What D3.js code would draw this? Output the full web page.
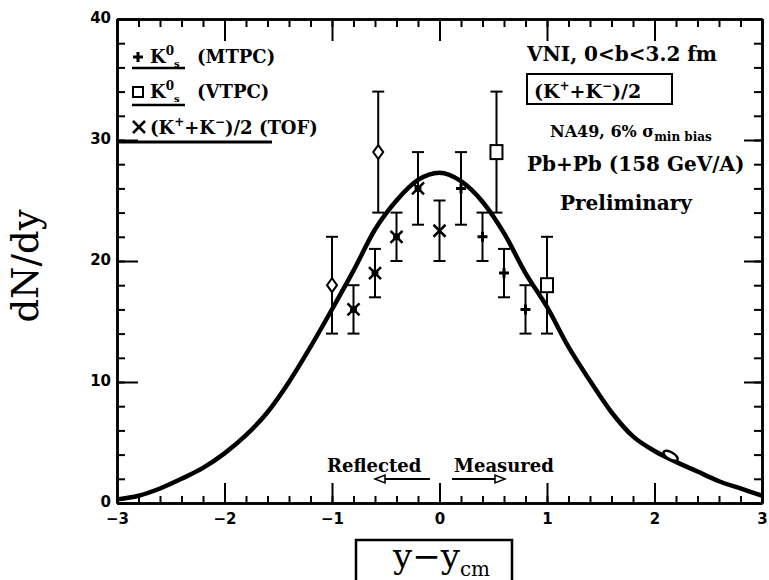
<!DOCTYPE html>
<html><head><meta charset="utf-8">
<script src="https://cdn.jsdelivr.net/npm/d3@7"></script>
<style>
body{margin:0;background:#fff;}
svg{display:block;}
</style></head>
<body>
<svg id="c" width="769" height="580"></svg>
<script>
// ---- data ----
const curveX = [-3.0,-2.8,-2.6,-2.4,-2.2,-2.0,-1.8,-1.6,-1.4,-1.2,-1.0,-0.8,-0.6,-0.4,-0.2,0.0,0.2,0.4,0.6,0.8,1.0,1.2,1.4,1.6,1.8,2.0,2.2,2.4,2.6,2.8,3.0];
const curveY = [0.3,0.6,1.2,2.0,2.9,4.1,5.6,7.5,10.0,12.9,16.0,19.2,22.6,25.0,26.7,27.3,26.6,24.9,22.3,19.0,16.2,12.9,10.1,7.5,5.5,4.3,3.4,2.6,1.8,1.2,0.6];

const mtpcX = [0.2,0.4,0.6,0.8];
const mtpcY = [26,22,19,16];
const mtpcErr = [3,2,2,2];

const vtpcX = [0.53,1.0];
const vtpcY = [29,18];
const vtpcErr = [5,4];

const tofX = [0];
const tofY = [22.5];
const tofErr = [2.5];

const reflMtpcX = [-0.2,-0.4,-0.6,-0.8];
const reflMtpcY = [26,22,19,16];
const reflMtpcErr = [3,2,2,2];

const reflVtpcX = [-0.57,-1.0];
const reflVtpcY = [29,18];
const reflVtpcErr = [5,4];

const extraX = [2.15];
const extraY = [3.9];

const xMajor = [-3,-2,-1,0,1,2,3];
const yMajor = [0,10,20,30,40];

// ---- scales ----
const svg = d3.select("#c");
const x = d3.scaleLinear().domain([-3,3]).range([117,762]);
const y = d3.scaleLinear().domain([0,40]).range([503,19]);
const xMinor = d3.range(-3,3.001,0.2).map(v=>+v.toFixed(1));
const yMinor = d3.range(0,40.001,2);

const tickFont = "DejaVu Sans";
function styleAxis(g){
  g.selectAll("path.domain").attr("stroke","#000").attr("stroke-width",2.5);
  g.selectAll(".tick line").attr("stroke","#000").attr("stroke-width",2);
  g.selectAll(".tick text").attr("font-family",tickFont).attr("font-weight","bold").attr("font-size",15).attr("fill","#000");
}
// bottom
svg.append("g").attr("transform",`translate(0,${y(0)})`)
  .call(d3.axisBottom(x).tickValues(xMinor).tickSize(-7).tickSizeOuter(0).tickFormat("")).call(styleAxis);
svg.append("g").attr("transform",`translate(0,${y(0)})`)
  .call(d3.axisBottom(x).tickValues(xMajor).tickSize(-20).tickSizeOuter(0).tickPadding(10).tickFormat(d3.format("d"))).call(styleAxis);
// top
svg.append("g").attr("transform",`translate(0,${y(40)})`)
  .call(d3.axisTop(x).tickValues(xMinor).tickSize(-8).tickSizeOuter(0).tickFormat("")).call(styleAxis);
svg.append("g").attr("transform",`translate(0,${y(40)})`)
  .call(d3.axisTop(x).tickValues(xMajor).tickSize(-22).tickSizeOuter(0).tickFormat("")).call(styleAxis);
// left
svg.append("g").attr("transform",`translate(${x(-3)},0)`)
  .call(d3.axisLeft(y).tickValues(yMinor).tickSize(-8).tickSizeOuter(0).tickFormat("")).call(styleAxis);
const yl = svg.append("g").attr("transform",`translate(${x(-3)},0)`)
  .call(d3.axisLeft(y).tickValues(yMajor).tickSize(-21).tickSizeOuter(0).tickPadding(6).tickFormat(d3.format("d"))).call(styleAxis);
yl.selectAll(".tick text").attr("dy","0.2em");
// right
svg.append("g").attr("transform",`translate(${x(3)},0)`)
  .call(d3.axisRight(y).tickValues(yMinor).tickSize(-8).tickSizeOuter(0).tickFormat("")).call(styleAxis);
svg.append("g").attr("transform",`translate(${x(3)},0)`)
  .call(d3.axisRight(y).tickValues(yMajor).tickSize(-18).tickSizeOuter(0).tickFormat("")).call(styleAxis);

// ---- curve ----
const line = d3.line().x(d=>x(d[0])).y(d=>y(d[1])).curve(d3.curveMonotoneX);
svg.append("path").datum(curveX.map((v,i)=>[v,curveY[i]]))
  .attr("d",line).attr("fill","none").attr("stroke","#000").attr("stroke-width",4.5).attr("stroke-linejoin","round");

// ---- error bars ----
function errBars(xs,ys,es){
  const g = svg.append("g").attr("stroke","#000").attr("stroke-width",2);
  xs.forEach((xv,i)=>{
    const cx=x(xv), y1=y(ys[i]-es[i]), y2=y(ys[i]+es[i]);
    g.append("line").attr("x1",cx).attr("x2",cx).attr("y1",y1).attr("y2",y2);
    g.append("line").attr("x1",cx-6).attr("x2",cx+6).attr("y1",y1).attr("y2",y1);
    g.append("line").attr("x1",cx-6).attr("x2",cx+6).attr("y1",y2).attr("y2",y2);
  });
}
errBars(mtpcX,mtpcY,mtpcErr);
errBars(vtpcX,vtpcY,vtpcErr);
errBars(tofX,tofY,tofErr);
errBars(reflMtpcX,reflMtpcY,reflMtpcErr);
errBars(reflVtpcX,reflVtpcY,reflVtpcErr);

// ---- markers ----
function plusM(g,cx,cy,s){
  g.append("path").attr("d",`M${cx-s},${cy}H${cx+s}M${cx},${cy-s}V${cy+s}`).attr("stroke","#000").attr("stroke-width",3).attr("fill","none");
}
function crossM(g,cx,cy,s,dot){
  g.append("path").attr("d",`M${cx-s},${cy-s}L${cx+s},${cy+s}M${cx-s},${cy+s}L${cx+s},${cy-s}`).attr("stroke","#000").attr("stroke-width",2.5).attr("fill","none");
  if(dot) g.append("circle").attr("cx",cx).attr("cy",cy).attr("r",3.5).attr("fill","#000");
}
function diamondM(g,cx,cy,w,h){
  g.append("path").attr("d",`M${cx},${cy-h}L${cx+w},${cy}L${cx},${cy+h}L${cx-w},${cy}Z`).attr("stroke","#000").attr("stroke-width",2).attr("fill","#fff");
}
function squareM(g,cx,cy,w,h){
  g.append("rect").attr("x",cx-w).attr("y",cy-h).attr("width",2*w).attr("height",2*h).attr("stroke","#000").attr("stroke-width",2).attr("fill","#fff");
}
const mg = svg.append("g");
mtpcX.forEach((v,i)=>plusM(mg,x(v),y(mtpcY[i]),5));
vtpcX.forEach((v,i)=>squareM(mg,x(v),y(vtpcY[i]),6,7));
tofX.forEach((v,i)=>crossM(mg,x(v),y(tofY[i]),6,false));
reflMtpcX.forEach((v,i)=>crossM(mg,x(v),y(reflMtpcY[i]),6,true));
reflVtpcX.forEach((v,i)=>diamondM(mg,x(v),y(reflVtpcY[i]),5,7));
extraX.forEach((v,i)=>{
  mg.append("ellipse").attr("cx",x(v)).attr("cy",y(extraY[i])).attr("rx",8).attr("ry",3.5)
    .attr("transform",`rotate(30,${x(v)},${y(extraY[i])})`).attr("fill","#fff").attr("stroke","#000").attr("stroke-width",2.5);
});

// ---- legend (top-left) ----
const serif = "DejaVu Serif";
const lg = svg.append("g").attr("font-family",serif).attr("font-weight","bold").attr("fill","#000");
plusM(lg,138,57,5);
let t = lg.append("text").attr("x",150).attr("y",63).attr("font-size",18);
t.append("tspan").text("K");
t.append("tspan").attr("dy",-8).attr("font-size",12).text("0");
t.append("tspan").attr("dy",12).attr("font-size",10).text("s");
t.append("tspan").attr("dy",-4).attr("x",197).text("(MTPC)");
lg.append("line").attr("x1",132).attr("x2",185).attr("y1",68).attr("y2",68).attr("stroke","#000").attr("stroke-width",2.5);

squareM(lg,138,92,5,5);
t = lg.append("text").attr("x",150).attr("y",98).attr("font-size",18);
t.append("tspan").text("K");
t.append("tspan").attr("dy",-8).attr("font-size",12).text("0");
t.append("tspan").attr("dy",12).attr("font-size",10).text("s");
t.append("tspan").attr("dy",-4).attr("x",197).text("(VTPC)");
lg.append("line").attr("x1",132).attr("x2",185).attr("y1",105).attr("y2",105).attr("stroke","#000").attr("stroke-width",2.5);

crossM(lg,139,127,6,false);
t = lg.append("text").attr("x",150).attr("y",134).attr("font-size",18);
t.append("tspan").text("(K");
t.append("tspan").attr("dy",-8).attr("font-size",12).text("+");
t.append("tspan").attr("dy",8).text("+K");
t.append("tspan").attr("dy",-8).attr("font-size",12).text("−");
t.append("tspan").attr("dy",8).text(")/2 (TOF)");
lg.append("line").attr("x1",118).attr("x2",272).attr("y1",142).attr("y2",142).attr("stroke","#000").attr("stroke-width",3);

// ---- right-hand annotations ----
const rg = svg.append("g").attr("font-family",serif).attr("font-weight","bold").attr("fill","#000");
rg.append("text").attr("x",527).attr("y",61).attr("font-size",20).text("VNI, 0<b<3.2 fm");
rg.append("rect").attr("x",527).attr("y",74).attr("width",145).attr("height",30).attr("fill","none").attr("stroke","#000").attr("stroke-width",2);
t = rg.append("text").attr("x",534).attr("y",98).attr("font-size",19);
t.append("tspan").text("(K");
t.append("tspan").attr("dy",-8).attr("font-size",12).text("+");
t.append("tspan").attr("dy",8).text("+K");
t.append("tspan").attr("dy",-8).attr("font-size",12).text("−");
t.append("tspan").attr("dy",8).text(")/2");
t = rg.append("text").attr("x",550).attr("y",137).attr("font-size",16);
t.append("tspan").text("NA49, 6% σ");
t.append("tspan").attr("dy",4).attr("font-size",12).text("min bias");
rg.append("text").attr("x",527).attr("y",171).attr("font-size",20).text("Pb+Pb (158 GeV/A)");
rg.append("text").attr("x",560).attr("y",210).attr("font-size",20).text("Preliminary");

// ---- Reflected / Measured ----
const bg = svg.append("g").attr("font-family",serif).attr("font-weight","bold").attr("fill","#000");
bg.append("text").attr("x",327).attr("y",472).attr("font-size",18).text("Reflected");
bg.append("text").attr("x",454).attr("y",472).attr("font-size",18).text("Measured");
bg.append("line").attr("x1",384).attr("x2",430).attr("y1",479).attr("y2",479).attr("stroke","#000").attr("stroke-width",1.8);
bg.append("path").attr("d","M375,479L385,475L385,483Z").attr("fill","#fff").attr("stroke","#000").attr("stroke-width",1.5);
bg.append("line").attr("x1",452).attr("x2",496).attr("y1",479).attr("y2",479).attr("stroke","#000").attr("stroke-width",1.8);
bg.append("path").attr("d","M505,479L495,475L495,483Z").attr("fill","#fff").attr("stroke","#000").attr("stroke-width",1.5);

// ---- axis titles ----
svg.append("text").attr("transform","translate(38,266) rotate(-90)").attr("text-anchor","middle")
  .attr("font-family",serif).attr("font-size",37).attr("fill","#000").text("dN/dy");
svg.append("path").attr("d","M356,582V540H512V582").attr("fill","none").attr("stroke","#000").attr("stroke-width",2.5);
t = svg.append("text").attr("x",393).attr("y",568).attr("font-family",serif).attr("font-size",34).attr("fill","#000");
t.append("tspan").text("y−y");
t.append("tspan").attr("dy",8).attr("font-size",20).text("cm");
</script>
</body></html>
